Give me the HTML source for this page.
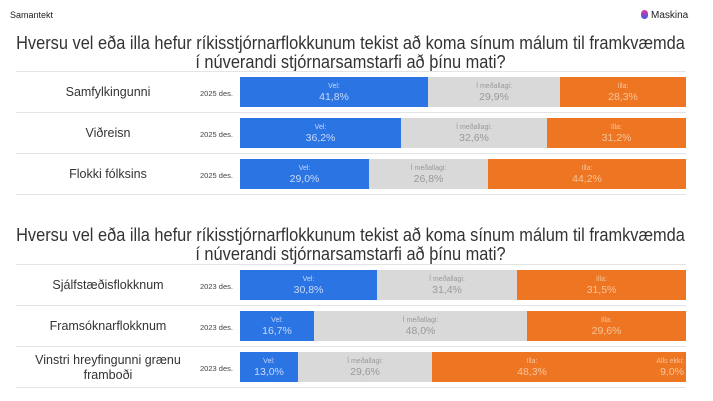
<!DOCTYPE html>
<html><head><meta charset="utf-8"><style>
body{margin:0;width:713px;height:401px;background:#fff;font-family:"Liberation Sans",sans-serif;position:relative;overflow:hidden}
.a{position:absolute}
.t{left:-56px;width:813px;text-align:center;font-size:18.5px;color:#333;line-height:19px;white-space:nowrap;transform:scaleX(0.885);transform-origin:406.5px 0}
.ln{left:16px;width:670px;height:1px;background:#e4e4e4}
.lab{left:20px;width:176px;text-align:center;font-size:12.5px;color:#333;line-height:15px}
.yr{left:200px;font-size:7.5px;color:#444}
.s{top:0;height:30px;text-align:center;font-size:7px;line-height:9px;padding-top:5px;box-sizing:border-box}
.s b{display:block;font-weight:normal;font-size:10.5px;line-height:12px}
.v{background:#2b74e4;color:#c9dafa}.m{background:#d9d9d9;color:#999}.i{background:#ee7622;color:#f7c49a}
.bar{left:240px;width:446px;height:30px}
</style></head><body>
<div class="a" style="left:10px;top:10px;font-size:9px;color:#222">Samantekt</div>
<div class="a" style="left:641px;top:10px;font-size:10px;color:#222"><span style="display:inline-block;width:7px;height:9px;border-radius:4px;background:linear-gradient(#e23aa0,#3a5ae8);vertical-align:-1px;margin-right:3px"></span>Maskina</div>
<div class="a t" style="top:33px">Hversu vel eða illa hefur ríkisstjórnarflokkunum tekist að koma sínum málum til framkvæmda<br>í núverandi stjórnarsamstarfi að þínu mati?</div>
<div class="a t" style="top:225px">Hversu vel eða illa hefur ríkisstjórnarflokkunum tekist að koma sínum málum til framkvæmda<br>í núverandi stjórnarsamstarfi að þínu mati?</div>
<div class="a ln" style="top:71px"></div><div class="a ln" style="top:112px"></div><div class="a ln" style="top:153px"></div><div class="a ln" style="top:194px"></div>
<div class="a ln" style="top:264px"></div><div class="a ln" style="top:305px"></div><div class="a ln" style="top:346px"></div><div class="a ln" style="top:387px"></div>

<div class="a lab" style="top:85px">Samfylkingunni</div><div class="a yr" style="top:89px">2025 des.</div>
<div class="a bar" style="top:77px"><div class="a s v" style="left:0;width:188px">Vel:<b>41,8%</b></div><div class="a s m" style="left:188px;width:132px">Í meðallagi:<b>29,9%</b></div><div class="a s i" style="left:320px;width:126px">Illa:<b>28,3%</b></div></div>

<div class="a lab" style="top:126px">Viðreisn</div><div class="a yr" style="top:130px">2025 des.</div>
<div class="a bar" style="top:118px"><div class="a s v" style="left:0;width:161px">Vel:<b>36,2%</b></div><div class="a s m" style="left:161px;width:146px">Í meðallagi:<b>32,6%</b></div><div class="a s i" style="left:307px;width:139px">Illa:<b>31,2%</b></div></div>

<div class="a lab" style="top:167px">Flokki fólksins</div><div class="a yr" style="top:171px">2025 des.</div>
<div class="a bar" style="top:159px"><div class="a s v" style="left:0;width:129px">Vel:<b>29,0%</b></div><div class="a s m" style="left:129px;width:119px">Í meðallagi:<b>26,8%</b></div><div class="a s i" style="left:248px;width:198px">Illa:<b>44,2%</b></div></div>

<div class="a lab" style="top:278px">Sjálfstæðisflokknum</div><div class="a yr" style="top:282px">2023 des.</div>
<div class="a bar" style="top:270px"><div class="a s v" style="left:0;width:137px">Vel:<b>30,8%</b></div><div class="a s m" style="left:137px;width:140px">Í meðallagi:<b>31,4%</b></div><div class="a s i" style="left:277px;width:169px">Illa:<b>31,5%</b></div></div>

<div class="a lab" style="top:319px">Framsóknarflokknum</div><div class="a yr" style="top:323px">2023 des.</div>
<div class="a bar" style="top:311px"><div class="a s v" style="left:0;width:74px">Vel:<b>16,7%</b></div><div class="a s m" style="left:74px;width:213px">Í meðallagi:<b>48,0%</b></div><div class="a s i" style="left:287px;width:159px">Illa:<b>29,6%</b></div></div>

<div class="a lab" style="top:353px">Vinstri hreyfingunni grænu<br>framboði</div><div class="a yr" style="top:364px">2023 des.</div>
<div class="a bar" style="top:352px"><div class="a s v" style="left:0;width:58px">Vel:<b>13,0%</b></div><div class="a s m" style="left:58px;width:134px">Í meðallagi:<b>29,6%</b></div><div class="a s i" style="left:192px;width:200px">Illa:<b>48,3%</b></div><div class="a s i" style="left:392px;width:54px;text-align:right;padding-right:2px">Alls ekki:<b>9,0%</b></div></div>
</body></html>
